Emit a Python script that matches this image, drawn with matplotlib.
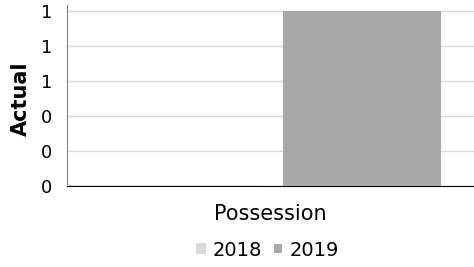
import matplotlib
matplotlib.use("Agg")
import matplotlib.pyplot as plt
import numpy as np
from matplotlib.ticker import FuncFormatter, MultipleLocator

# data
categories = ['Possession']
series_names = ['2018', '2019']
values_2018 = [0]
values_2019 = [1]

colors = ['#d9d9d9', '#a9a9a9']

fig = plt.figure(figsize=(4.74, 2.67), dpi=100)
ax = fig.add_axes([0.141, 0.303, 0.859, 0.68])

x = np.arange(len(categories))
b1 = ax.bar(x - 0.26, values_2018, 0.48, color=colors[0], edgecolor=colors[0],
            linewidth=1.5, label=series_names[0], zorder=3)
b2 = ax.bar(x + 0.225, values_2019, 0.39, color=colors[1], edgecolor='none',
            label=series_names[1], zorder=3)

ax.set_xlim(-0.5, 0.5)
ax.set_ylim(0, 1.034)
ax.yaxis.set_major_locator(MultipleLocator(0.2))
ax.yaxis.set_major_formatter(FuncFormatter(lambda v, p: f"{v:.0f}"))
ax.tick_params(axis='y', length=0, pad=10.5, labelsize=13)
ax.tick_params(axis='x', length=0, pad=13, labelsize=15)
ax.set_xticks(x)
ax.set_xticklabels(categories)
ax.grid(axis='y', color='#d9d9d9', linewidth=1, zorder=0)

for s in ['top', 'right']:
    ax.spines[s].set_visible(False)
ax.spines['left'].set_color('#808080')
ax.spines['bottom'].set_color('#000000')

ax.set_ylabel('Actual', fontsize=15, fontweight='bold')
ax.yaxis.set_label_coords(-0.088, 0.48)

fig.legend(handles=[b1, b2], labels=series_names, loc='center',
           bbox_to_anchor=(268 / 474, 1 - 250 / 267), ncol=2, frameon=False,
           fontsize=14, handlelength=0.4, handleheight=0.4, handletextpad=0.4,
           columnspacing=0.6)

fig.savefig('out.png', dpi=100)
